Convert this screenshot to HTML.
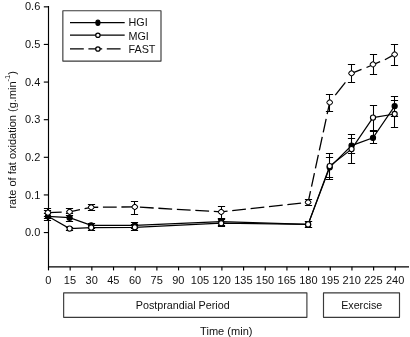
<!DOCTYPE html>
<html><head><meta charset="utf-8"><title>chart</title>
<style>html,body{margin:0;padding:0;background:#fff;overflow:hidden}svg{display:block;position:absolute;left:0;top:0;will-change:transform;opacity:0.999}</style></head>
<body>
<svg width="410" height="337" viewBox="0 0 410 337">
<rect width="410" height="337" fill="#fff"/>
<g stroke="#000" stroke-width="1.15" fill="none">
<path d="M48.5 6.0V266.8M47.9 266.8H409"/>
<path d="M43.8 232.55H48.5"/>
<path d="M43.8 194.93H48.5"/>
<path d="M43.8 157.31H48.5"/>
<path d="M43.8 119.69H48.5"/>
<path d="M43.8 82.07H48.5"/>
<path d="M43.8 44.45H48.5"/>
<path d="M43.8 6.83H48.5"/>
<path d="M48.50 266.8V270.4"/>
<path d="M70.17 266.8V270.4"/>
<path d="M91.85 266.8V270.4"/>
<path d="M113.53 266.8V270.4"/>
<path d="M135.20 266.8V270.4"/>
<path d="M156.88 266.8V270.4"/>
<path d="M178.55 266.8V270.4"/>
<path d="M200.22 266.8V270.4"/>
<path d="M221.90 266.8V270.4"/>
<path d="M243.58 266.8V270.4"/>
<path d="M265.25 266.8V270.4"/>
<path d="M286.93 266.8V270.4"/>
<path d="M308.60 266.8V270.4"/>
<path d="M330.28 266.8V270.4"/>
<path d="M351.95 266.8V270.4"/>
<path d="M373.62 266.8V270.4"/>
<path d="M395.30 266.8V270.4"/>
</g>
<g font-family="Liberation Sans, sans-serif" font-size="11" fill="#111">
<text x="40.3" y="236.15" text-anchor="end">0.0</text>
<text x="40.3" y="198.53" text-anchor="end">0.1</text>
<text x="40.3" y="160.91" text-anchor="end">0.2</text>
<text x="40.3" y="123.29" text-anchor="end">0.3</text>
<text x="40.3" y="85.67" text-anchor="end">0.4</text>
<text x="40.3" y="48.05" text-anchor="end">0.5</text>
<text x="40.3" y="10.43" text-anchor="end">0.6</text>
<text x="48.30" y="284" text-anchor="middle">0</text>
<text x="69.97" y="284" text-anchor="middle">15</text>
<text x="91.65" y="284" text-anchor="middle">30</text>
<text x="113.33" y="284" text-anchor="middle">45</text>
<text x="135.00" y="284" text-anchor="middle">60</text>
<text x="156.68" y="284" text-anchor="middle">75</text>
<text x="178.35" y="284" text-anchor="middle">90</text>
<text x="200.03" y="284" text-anchor="middle">105</text>
<text x="221.70" y="284" text-anchor="middle">120</text>
<text x="243.38" y="284" text-anchor="middle">135</text>
<text x="265.05" y="284" text-anchor="middle">150</text>
<text x="286.73" y="284" text-anchor="middle">165</text>
<text x="308.40" y="284" text-anchor="middle">180</text>
<text x="330.08" y="284" text-anchor="middle">195</text>
<text x="351.75" y="284" text-anchor="middle">210</text>
<text x="373.43" y="284" text-anchor="middle">225</text>
<text x="395.10" y="284" text-anchor="middle">240</text>
<text x="135.8" y="309" font-size="10.75">Postprandial Period</text>
<text x="341.2" y="309.1" font-size="10.7">Exercise</text>
<text x="200.1" y="334.8" font-size="11.05">Time (min)</text>
<text transform="translate(16.4 208.6) rotate(-90)" font-size="11">rate of fat oxidation (g.min<tspan font-size="7.5" dy="-6.9">-1</tspan><tspan dy="6.9">)</tspan></text>
</g>
<g stroke="#3a3a3a" stroke-width="1.15" fill="none" stroke-linejoin="round">
<rect x="63.65" y="292.8" width="243.25" height="24.5"/>
<rect x="323.5" y="292.8" width="76" height="24.5"/>
<rect x="62.85" y="10.75" width="98.15" height="50.3"/>
</g>
<g stroke="#000" stroke-width="1.3">
<path d="M70 22.7H124.7M70 35.2H124.7"/>
<path d="M70 48.95H124.7" stroke-dasharray="13.8 4.6"/>
<ellipse cx="97.9" cy="22.7" rx="1.95" ry="2.55" fill="#000"/>
<circle cx="97.9" cy="35.2" r="2.2" fill="#fff" stroke-width="1.25"/>
<circle cx="97.9" cy="48.95" r="2.2" fill="#fff" stroke-width="1.25"/>
</g>
<g font-family="Liberation Sans, sans-serif" font-size="10" fill="#111">
<text transform="translate(128.5 26.4) scale(1.08 1)">HGI</text><text transform="translate(128.5 39.7) scale(1.08 1)">MGI</text><text transform="translate(128.5 53) scale(1.08 1)">FAST</text>
</g>
<g stroke="#000" stroke-width="1.3" fill="none">
<path d="M47.50 208.50V216.50M43.90 208.50H51.10M43.90 216.50H51.10" stroke-width="1.05"/><path d="M69.50 208.50V215.50M65.90 208.50H73.10M65.90 215.50H73.10" stroke-width="1.05"/><path d="M91.50 204.50V210.50M87.90 204.50H95.10M87.90 210.50H95.10" stroke-width="1.05"/><path d="M134.50 201.50V214.50M130.90 201.50H138.10M130.90 214.50H138.10" stroke-width="1.05"/><path d="M221.50 206.50V218.50M217.90 206.50H225.10M217.90 218.50H225.10" stroke-width="1.05"/><path d="M308.50 199.50V205.50M304.90 199.50H312.10M304.90 205.50H312.10" stroke-width="1.05"/><path d="M329.50 94.50V111.50M325.90 94.50H333.10M325.90 111.50H333.10" stroke-width="1.05"/><path d="M351.50 64.50V82.50M347.90 64.50H355.10M347.90 82.50H355.10" stroke-width="1.05"/><path d="M373.50 54.50V74.50M369.90 54.50H377.10M369.90 74.50H377.10" stroke-width="1.05"/><path d="M394.50 44.50V65.50M390.90 44.50H398.10M390.90 65.50H398.10" stroke-width="1.05"/><path d="M47.50 210.50V220.50M43.90 210.50H51.10M43.90 220.50H51.10" stroke-width="1.05"/><path d="M69.50 213.50V221.50M65.90 213.50H73.10M65.90 221.50H73.10" stroke-width="1.05"/><path d="M91.50 223.50V228.50M87.90 223.50H95.10M87.90 228.50H95.10" stroke-width="1.05"/><path d="M134.50 222.50V228.50M130.90 222.50H138.10M130.90 228.50H138.10" stroke-width="1.05"/><path d="M221.50 218.50V225.50M217.90 218.50H225.10M217.90 225.50H225.10" stroke-width="1.05"/><path d="M308.50 221.50V227.50M304.90 221.50H312.10M304.90 227.50H312.10" stroke-width="1.05"/><path d="M329.50 157.50V177.50M325.90 157.50H333.10M325.90 177.50H333.10" stroke-width="1.05"/><path d="M351.50 138.50V153.50M347.90 138.50H355.10M347.90 153.50H355.10" stroke-width="1.05"/><path d="M373.50 131.50V143.50M369.90 131.50H377.10M369.90 143.50H377.10" stroke-width="1.05"/><path d="M394.50 96.50V116.50M390.90 96.50H398.10M390.90 116.50H398.10" stroke-width="1.05"/><path d="M47.50 213.50V218.50M43.90 213.50H51.10M43.90 218.50H51.10" stroke-width="1.05"/><path d="M69.50 227.50V230.50M65.90 227.50H73.10M65.90 230.50H73.10" stroke-width="1.05"/><path d="M91.50 225.50V230.50M87.90 225.50H95.10M87.90 230.50H95.10" stroke-width="1.05"/><path d="M134.50 224.50V230.50M130.90 224.50H138.10M130.90 230.50H138.10" stroke-width="1.05"/><path d="M221.50 219.50V226.50M217.90 219.50H225.10M217.90 226.50H225.10" stroke-width="1.05"/><path d="M308.50 221.50V227.50M304.90 221.50H312.10M304.90 227.50H312.10" stroke-width="1.05"/><path d="M329.50 153.50V179.50M325.90 153.50H333.10M325.90 179.50H333.10" stroke-width="1.05"/><path d="M351.50 134.50V163.50M347.90 134.50H355.10M347.90 163.50H355.10" stroke-width="1.05"/><path d="M373.50 105.50V130.50M369.90 105.50H377.10M369.90 130.50H377.10" stroke-width="1.05"/><path d="M394.50 100.50V127.50M390.90 100.50H398.10M390.90 127.50H398.10" stroke-width="1.05"/>
<g stroke-width="1.2"><polyline points="47.90,216.30 69.60,217.65 91.20,225.30 134.80,225.30 221.20,221.60 308.10,224.40 329.70,167.30 351.55,145.60 373.00,137.80 394.65,106.10" fill="none"/><polyline points="47.90,216.30 69.60,228.60 91.20,227.60 134.80,227.30 221.20,223.20 308.10,224.40 329.70,166.10 351.55,149.10 373.00,117.60 394.65,114.00" fill="none"/></g>
<polyline points="47.90,212.60 69.60,211.80 91.20,207.30 134.80,206.90 221.20,211.90 308.10,202.30 329.70,102.40" fill="none" stroke-dasharray="13.8 4.7" stroke-dashoffset="0"/>
<path d="M335.3 95.2L345.4 82.3"/>
<path d="M351.5 73.3L361.5 69.3"/>
<path d="M366.5 67.5L380.1 61.7"/>
<path d="M384.9 59.7L394.6 54.4"/>
<ellipse cx="69.60" cy="217.65" rx="2.55" ry="2.6" fill="#000" stroke-width="1.15"/><ellipse cx="91.20" cy="225.30" rx="2.55" ry="2.6" fill="#000" stroke-width="1.15"/><ellipse cx="134.80" cy="225.30" rx="2.55" ry="2.6" fill="#000" stroke-width="1.15"/><ellipse cx="221.20" cy="221.60" rx="2.55" ry="2.6" fill="#000" stroke-width="1.15"/><ellipse cx="308.10" cy="224.40" rx="2.55" ry="2.6" fill="#000" stroke-width="1.15"/><ellipse cx="329.70" cy="167.30" rx="2.55" ry="2.6" fill="#000" stroke-width="1.15"/><ellipse cx="351.55" cy="145.60" rx="2.55" ry="2.6" fill="#000" stroke-width="1.15"/><ellipse cx="373.00" cy="137.80" rx="2.55" ry="2.6" fill="#000" stroke-width="1.15"/><ellipse cx="394.65" cy="106.10" rx="2.55" ry="2.6" fill="#000" stroke-width="1.15"/>
<ellipse cx="69.60" cy="228.60" rx="2.55" ry="2.6" fill="#fff" stroke-width="1.15"/><ellipse cx="91.20" cy="227.60" rx="2.55" ry="2.6" fill="#fff" stroke-width="1.15"/><ellipse cx="134.80" cy="227.30" rx="2.55" ry="2.6" fill="#fff" stroke-width="1.15"/><ellipse cx="221.20" cy="223.20" rx="2.55" ry="2.6" fill="#fff" stroke-width="1.15"/><ellipse cx="308.10" cy="224.40" rx="2.55" ry="2.6" fill="#fff" stroke-width="1.15"/><ellipse cx="329.70" cy="166.10" rx="2.55" ry="2.6" fill="#fff" stroke-width="1.15"/><ellipse cx="351.55" cy="149.10" rx="2.55" ry="2.6" fill="#fff" stroke-width="1.15"/><ellipse cx="373.00" cy="117.60" rx="2.55" ry="2.6" fill="#fff" stroke-width="1.15"/><ellipse cx="394.65" cy="114.00" rx="2.55" ry="2.6" fill="#fff" stroke-width="1.15"/>
<ellipse cx="47.90" cy="216.30" rx="2.55" ry="2.6" fill="#000" stroke-width="1.15"/>
<path d="M50.75 212.60L50.67 212.87L50.46 213.29L50.11 213.76L49.67 214.21L49.17 214.62L48.66 214.93L48.20 215.13L47.90 215.20L47.60 215.13L47.14 214.93L46.63 214.62L46.13 214.21L45.69 213.76L45.34 213.29L45.13 212.87L45.05 212.60L45.13 212.33L45.34 211.91L45.69 211.44L46.13 210.99L46.63 210.58L47.14 210.27L47.60 210.07L47.90 210.00L48.20 210.07L48.66 210.27L49.17 210.58L49.67 210.99L50.11 211.44L50.46 211.91L50.67 212.33Z" fill="#fff" stroke-linejoin="round" stroke-width="1.05"/><path d="M72.45 211.80L72.37 212.07L72.16 212.49L71.81 212.96L71.37 213.41L70.87 213.82L70.36 214.13L69.90 214.33L69.60 214.40L69.30 214.33L68.84 214.13L68.33 213.82L67.83 213.41L67.39 212.96L67.04 212.49L66.83 212.07L66.75 211.80L66.83 211.53L67.04 211.11L67.39 210.64L67.83 210.19L68.33 209.78L68.84 209.47L69.30 209.27L69.60 209.20L69.90 209.27L70.36 209.47L70.87 209.78L71.37 210.19L71.81 210.64L72.16 211.11L72.37 211.53Z" fill="#fff" stroke-linejoin="round" stroke-width="1.05"/><path d="M94.05 207.30L93.97 207.57L93.76 207.99L93.41 208.46L92.97 208.91L92.47 209.32L91.96 209.63L91.50 209.83L91.20 209.90L90.90 209.83L90.44 209.63L89.93 209.32L89.43 208.91L88.99 208.46L88.64 207.99L88.43 207.57L88.35 207.30L88.43 207.03L88.64 206.61L88.99 206.14L89.43 205.69L89.93 205.28L90.44 204.97L90.90 204.77L91.20 204.70L91.50 204.77L91.96 204.97L92.47 205.28L92.97 205.69L93.41 206.14L93.76 206.61L93.97 207.03Z" fill="#fff" stroke-linejoin="round" stroke-width="1.05"/><path d="M137.65 206.90L137.57 207.17L137.36 207.59L137.01 208.06L136.57 208.51L136.07 208.92L135.56 209.23L135.10 209.43L134.80 209.50L134.50 209.43L134.04 209.23L133.53 208.92L133.03 208.51L132.59 208.06L132.24 207.59L132.03 207.17L131.95 206.90L132.03 206.63L132.24 206.21L132.59 205.74L133.03 205.29L133.53 204.88L134.04 204.57L134.50 204.37L134.80 204.30L135.10 204.37L135.56 204.57L136.07 204.88L136.57 205.29L137.01 205.74L137.36 206.21L137.57 206.63Z" fill="#fff" stroke-linejoin="round" stroke-width="1.05"/><path d="M224.05 211.90L223.97 212.17L223.76 212.59L223.41 213.06L222.97 213.51L222.47 213.92L221.96 214.23L221.50 214.43L221.20 214.50L220.90 214.43L220.44 214.23L219.93 213.92L219.43 213.51L218.99 213.06L218.64 212.59L218.43 212.17L218.35 211.90L218.43 211.63L218.64 211.21L218.99 210.74L219.43 210.29L219.93 209.88L220.44 209.57L220.90 209.37L221.20 209.30L221.50 209.37L221.96 209.57L222.47 209.88L222.97 210.29L223.41 210.74L223.76 211.21L223.97 211.63Z" fill="#fff" stroke-linejoin="round" stroke-width="1.05"/><path d="M310.95 202.30L310.87 202.57L310.66 202.99L310.31 203.46L309.87 203.91L309.37 204.32L308.86 204.63L308.40 204.83L308.10 204.90L307.80 204.83L307.34 204.63L306.83 204.32L306.33 203.91L305.89 203.46L305.54 202.99L305.33 202.57L305.25 202.30L305.33 202.03L305.54 201.61L305.89 201.14L306.33 200.69L306.83 200.28L307.34 199.97L307.80 199.77L308.10 199.70L308.40 199.77L308.86 199.97L309.37 200.28L309.87 200.69L310.31 201.14L310.66 201.61L310.87 202.03Z" fill="#fff" stroke-linejoin="round" stroke-width="1.05"/><path d="M332.55 102.40L332.47 102.67L332.26 103.09L331.91 103.56L331.47 104.01L330.97 104.42L330.46 104.73L330.00 104.93L329.70 105.00L329.40 104.93L328.94 104.73L328.43 104.42L327.93 104.01L327.49 103.56L327.14 103.09L326.93 102.67L326.85 102.40L326.93 102.13L327.14 101.71L327.49 101.24L327.93 100.79L328.43 100.38L328.94 100.07L329.40 99.87L329.70 99.80L330.00 99.87L330.46 100.07L330.97 100.38L331.47 100.79L331.91 101.24L332.26 101.71L332.47 102.13Z" fill="#fff" stroke-linejoin="round" stroke-width="1.05"/><path d="M354.40 73.30L354.32 73.57L354.11 73.99L353.76 74.46L353.32 74.91L352.82 75.32L352.31 75.63L351.85 75.83L351.55 75.90L351.25 75.83L350.79 75.63L350.28 75.32L349.78 74.91L349.34 74.46L348.99 73.99L348.78 73.57L348.70 73.30L348.78 73.03L348.99 72.61L349.34 72.14L349.78 71.69L350.28 71.28L350.79 70.97L351.25 70.77L351.55 70.70L351.85 70.77L352.31 70.97L352.82 71.28L353.32 71.69L353.76 72.14L354.11 72.61L354.32 73.03Z" fill="#fff" stroke-linejoin="round" stroke-width="1.05"/><path d="M375.85 64.35L375.77 64.62L375.56 65.04L375.21 65.51L374.77 65.96L374.27 66.37L373.76 66.68L373.30 66.88L373.00 66.95L372.70 66.88L372.24 66.68L371.73 66.37L371.23 65.96L370.79 65.51L370.44 65.04L370.23 64.62L370.15 64.35L370.23 64.08L370.44 63.66L370.79 63.19L371.23 62.74L371.73 62.33L372.24 62.02L372.70 61.82L373.00 61.75L373.30 61.82L373.76 62.02L374.27 62.33L374.77 62.74L375.21 63.19L375.56 63.66L375.77 64.08Z" fill="#fff" stroke-linejoin="round" stroke-width="1.05"/><path d="M397.50 54.40L397.42 54.67L397.21 55.09L396.86 55.56L396.42 56.01L395.92 56.42L395.41 56.73L394.95 56.93L394.65 57.00L394.35 56.93L393.89 56.73L393.38 56.42L392.88 56.01L392.44 55.56L392.09 55.09L391.88 54.67L391.80 54.40L391.88 54.13L392.09 53.71L392.44 53.24L392.88 52.79L393.38 52.38L393.89 52.07L394.35 51.87L394.65 51.80L394.95 51.87L395.41 52.07L395.92 52.38L396.42 52.79L396.86 53.24L397.21 53.71L397.42 54.13Z" fill="#fff" stroke-linejoin="round" stroke-width="1.05"/>
</g>
</svg>
</body></html>
